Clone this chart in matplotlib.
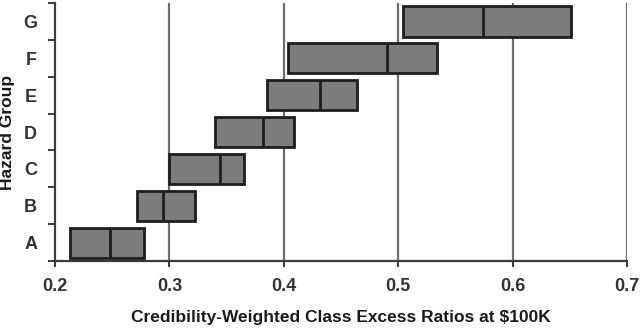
import matplotlib
matplotlib.use('Agg')
import matplotlib.pyplot as plt

# hazard groups and box values (low, median, high)
groups = ['A', 'B', 'C', 'D', 'E', 'F', 'G']
low = [0.213, 0.272, 0.300, 0.340, 0.385, 0.404, 0.504]
median = [0.248, 0.294, 0.344, 0.382, 0.432, 0.490, 0.574]
high = [0.278, 0.322, 0.365, 0.409, 0.464, 0.534, 0.651]

plt.rcParams['font.family'] = ['Liberation Sans', 'DejaVu Sans']
plt.rcParams['font.weight'] = 'bold'

fig = plt.figure(figsize=(6.41, 3.28), dpi=100)
ax = fig.add_axes([0.086, 0.204, 0.892, 0.787])

# vertical grid lines
for x in [0.3, 0.4, 0.5, 0.6, 0.7]:
    ax.axvline(x, color='#6e6e6e', lw=1.6, zorder=1)

ypos = list(range(len(groups)))
widths = [h - l for l, h in zip(low, high)]
ax.barh(ypos, widths, left=low, height=0.82, color='#7c7c7c',
        edgecolor='#1e1e1e', linewidth=2, zorder=3)
for y, m in zip(ypos, median):
    ax.plot([m, m], [y - 0.41, y + 0.41], color='#1e1e1e', lw=2, zorder=4,
            solid_capstyle='butt')

ax.set_xlim(0.2, 0.7)
ax.set_ylim(-0.5, 6.5)

ax.spines['top'].set_visible(False)
ax.spines['right'].set_visible(False)
for s in ['left', 'bottom']:
    ax.spines[s].set_color('#3a3a3a')
    ax.spines[s].set_linewidth(1.6)

ax.set_xticks([0.2, 0.3, 0.4, 0.5, 0.6, 0.7])
ax.set_xticklabels(['0.2', '0.3', '0.4', '0.5', '0.6', '0.7'])
ax.tick_params(axis='x', length=4, width=1.4, color='#3a3a3a',
               labelsize=13, labelcolor='#333333', pad=8)

# boundary ticks on the y axis, labels between them
ax.set_yticks([y - 0.5 for y in range(len(groups) + 1)])
ax.set_yticklabels([])
ax.set_yticks(ypos, minor=True)
ax.set_yticklabels(groups, minor=True)
ax.tick_params(axis='y', which='major', length=5, width=1.4, color='#3a3a3a')
ax.tick_params(axis='y', which='minor', length=0, labelsize=13,
               labelcolor='#333333', pad=13)

ax.set_xlabel('Credibility-Weighted Class Excess Ratios at $100K',
              fontsize=12.5, fontweight='bold', color='#1a1a1a', labelpad=11)
ax.set_ylabel('Hazard Group', fontsize=12.5, fontweight='bold',
              color='#1a1a1a', labelpad=6)

fig.savefig('out.png', dpi=100)
